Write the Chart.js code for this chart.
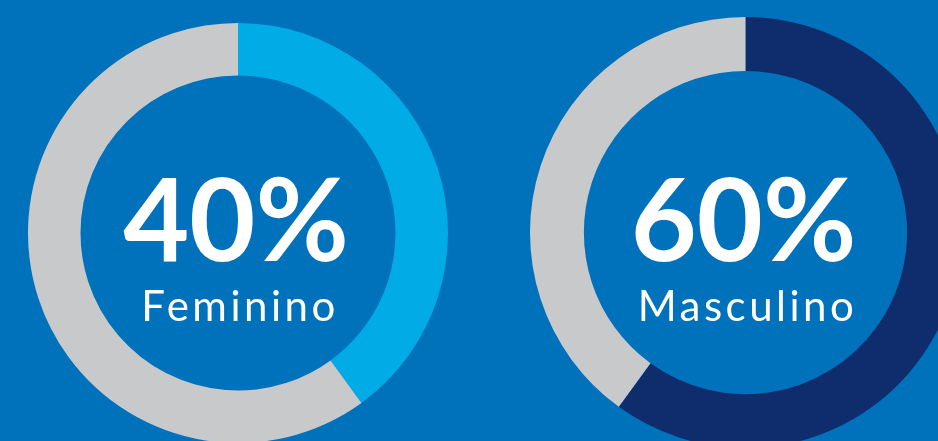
<!DOCTYPE html>
<html lang="pt-BR">
<head>
<meta charset="utf-8">
<title>Distribuição por sexo</title>
<script src="https://cdn.jsdelivr.net/npm/chart.js@4/dist/chart.umd.min.js"></script>
<style>
  html, body {
    margin: 0;
    padding: 0;
    width: 938px;
    height: 441px;
    overflow: hidden;
    background: #0071bb;
  }
  canvas {
    position: absolute;
  }
  #chartFeminino { left: 28px; top: 23px; }
  #chartMasculino { left: 530px; top: 17px; }
</style>
</head>
<body>
<canvas id="chartFeminino" width="420" height="420"></canvas>
<canvas id="chartMasculino" width="431" height="431"></canvas>

<script>
// Dados dos gráficos (percentuais)
const categorias = ['Feminino', 'Masculino'];
const feminino = [40, 60];   // [valor, restante]
const masculino = [60, 40];  // [valor, restante]

const CINZA = '#c8c9cb';
const CIANO = '#00abe6';
const MARINHO = '#0f2d6c';

// Texto central: percentual em destaque + rótulo da categoria
const textoCentral = {
    id: 'textoCentral',
    afterDraw(chart, args, opts) {
        const arc = chart.getDatasetMeta(0).data[0];
        if (!arc) return;
        const ctx = chart.ctx;
        const cx = arc.x;
        const cy = arc.y;
        const valor = chart.data.datasets[0].data[0];
        ctx.save();
        ctx.fillStyle = '#ffffff';
        ctx.textAlign = 'center';
        ctx.textBaseline = 'alphabetic';
        ctx.font = "700 114px Lato, sans-serif";
        ctx.fillText(valor + '%', cx - 2, cy + 28);
        ctx.font = "400 42px Lato, sans-serif";
        ctx.letterSpacing = '3.5px';
        ctx.fillText(opts.rotulo, cx + 2, cy + 88);
        ctx.restore();
    }
};

function criarRosca(id, valores, cor, rotulo) {
    const ctx = document.getElementById(id).getContext('2d');
    return new Chart(ctx, {
        type: 'doughnut',
        data: {
            labels: [rotulo, 'Outros'],
            datasets: [{
                data: valores,
                backgroundColor: [cor, CINZA],
                borderWidth: 0,
                hoverOffset: 0
            }]
        },
        options: {
            responsive: false,
            animation: false,
            devicePixelRatio: 1,
            cutout: '75%',
            events: [],
            layout: { padding: 0 },
            plugins: {
                legend: { display: false },
                tooltip: { enabled: false },
                textoCentral: { rotulo: rotulo }
            }
        },
        plugins: [textoCentral]
    });
}

criarRosca('chartFeminino', feminino, CIANO, categorias[0]);
criarRosca('chartMasculino', masculino, MARINHO, categorias[1]);
</script>
</body>
</html>
